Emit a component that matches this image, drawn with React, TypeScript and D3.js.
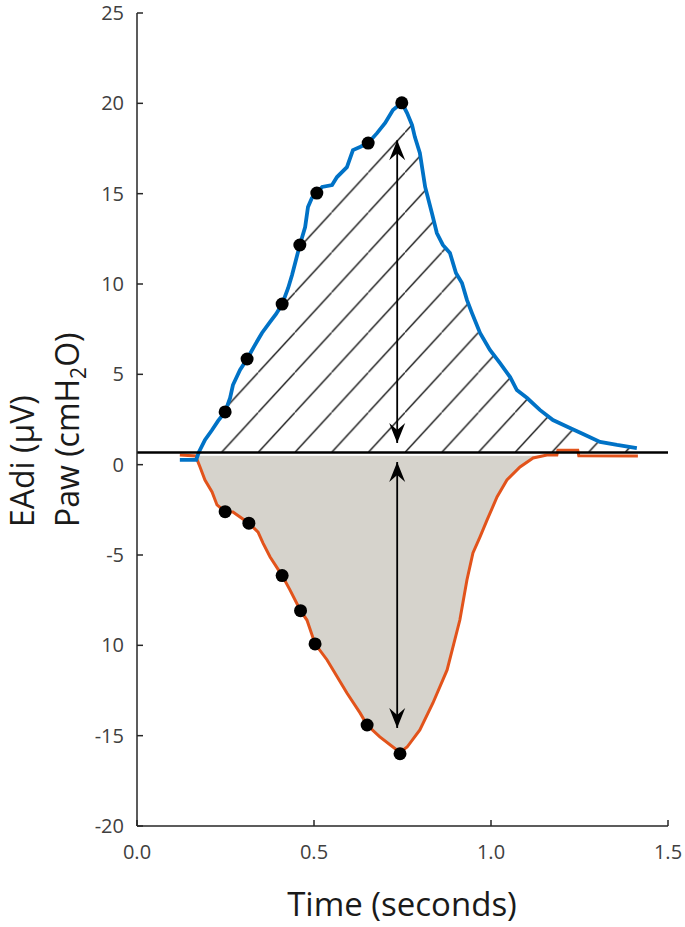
import React from 'react';
import * as d3 from 'd3';

// time (s) vs EAdi (µV) -- blue trace
const eadiTrace: [number, number][] = [
  [0.121, 0.26], [0.167, 0.26], [0.175, 0.7], [0.192, 1.37], [0.212, 1.92], [0.229, 2.42],
  [0.249, 2.92], [0.263, 3.69], [0.271, 4.41], [0.291, 5.24], [0.311, 5.85], [0.333, 6.62],
  [0.353, 7.29], [0.376, 7.9], [0.393, 8.34], [0.41, 8.89], [0.427, 9.78], [0.438, 10.5],
  [0.449, 11.33], [0.46, 12.16], [0.475, 13.15], [0.483, 14.26], [0.494, 14.76], [0.508, 15.03],
  [0.523, 15.37], [0.551, 15.48], [0.565, 15.92], [0.593, 16.47], [0.61, 17.41], [0.63, 17.58],
  [0.653, 17.8], [0.678, 18.35], [0.701, 18.91], [0.723, 19.63], [0.748, 20.03], [0.763, 19.46],
  [0.777, 18.8], [0.785, 18.13], [0.799, 17.25], [0.814, 15.37], [0.833, 13.93], [0.847, 12.82],
  [0.864, 12.16], [0.884, 11.72], [0.901, 10.61], [0.918, 10.06], [0.932, 9.12], [0.946, 8.4],
  [0.969, 7.29], [0.997, 6.35], [1.025, 5.63], [1.054, 4.85], [1.073, 4.13], [1.102, 3.69],
  [1.138, 3.03], [1.175, 2.47], [1.223, 2.03], [1.26, 1.7], [1.308, 1.26], [1.356, 1.09],
  [1.412, 0.92]
];

// time (s) vs Paw (cmH2O) -- orange trace
const pawTrace: [number, number][] = [
  [0.121, 0.53], [0.167, 0.48], [0.169, 0.31], [0.178, -0.13], [0.192, -0.85], [0.212, -1.51],
  [0.226, -2.23], [0.249, -2.6], [0.271, -2.62], [0.316, -3.24], [0.342, -3.73], [0.356, -4.34],
  [0.376, -5.11], [0.41, -6.14], [0.432, -6.93], [0.462, -8.08], [0.48, -8.6], [0.503, -9.92],
  [0.537, -10.81], [0.593, -12.64], [0.63, -13.74], [0.65, -14.41], [0.686, -15.07],
  [0.723, -15.63], [0.743, -15.93], [0.763, -15.63], [0.799, -14.68], [0.836, -13.19],
  [0.876, -11.36], [0.912, -8.6], [0.932, -6.38], [0.949, -4.89], [0.969, -4.0], [0.989, -3.06],
  [1.017, -1.79], [1.045, -0.85], [1.082, -0.13], [1.119, 0.37], [1.158, 0.53], [1.186, 0.53],
  [1.189, 0.8], [1.245, 0.8], [1.248, 0.5], [1.415, 0.48]
];

const eadiDots: [number, number][] = [
  [0.249, 2.92], [0.311, 5.85], [0.41, 8.89], [0.46, 12.16], [0.508, 15.03], [0.653, 17.8], [0.748, 20.03]
];
const pawDots: [number, number][] = [
  [0.249, -2.6], [0.316, -3.24], [0.41, -6.14], [0.462, -8.08], [0.503, -9.92], [0.65, -14.41], [0.743, -16.0]
];

const baseLevel = 0.675; // black reference line
const pawBase = 0.5;

// double arrows: [time, from, to]
const arrows: [number, number, number][] = [
  [0.735, 17.96, 1.2],
  [0.735, 0.15, -14.57]
];

const yTicks = [25, 20, 15, 10, 5, 0, -5, -10, -15, -20];
const yTickLabels = ['25', '20', '15', '10', '5', '0', '-5', '10', '-15', '-20'];
const xTicks = [0, 0.5, 1.0, 1.5];

export default function App() {
  const x = d3.scaleLinear().domain([0, 1.5]).range([137, 668]);
  const y = d3.scaleLinear().domain([-20, 25]).range([826, 13]);

  const line = d3.line<[number, number]>().x(d => x(d[0])).y(d => y(d[1]));
  const hatchArea = d3.area<[number, number]>()
    .x(d => x(d[0]))
    .y0(y(baseLevel))
    .y1(d => y(Math.max(d[1], baseLevel)));
  const grayArea = d3.area<[number, number]>()
    .x(d => x(d[0]))
    .y0(y(pawBase))
    .y1(d => y(Math.min(d[1], pawBase)));

  const hw = 36.7, hh = 40;
  const axisCol = '#262626';
  const tickFont = '"Open Sans", sans-serif';

  return (
    <svg width={685} height={927} style={{ position: 'absolute', left: 0, top: 0, background: '#fff' }}>
      <defs>
        <pattern id="hatch" patternUnits="userSpaceOnUse" x={405} y={y(baseLevel)} width={hw} height={hh}>
          <line x1={-1} y1={hh + 1.1} x2={hw + 1} y2={-1.1} stroke="#000" strokeWidth={1.2} />
        </pattern>
        <marker id="head" viewBox="-22 -10 24 20" markerWidth={24} markerHeight={20} refX={0} refY={0}
          markerUnits="userSpaceOnUse" orient="auto-start-reverse">
          <path d="M0,0 L-20,-8 L-13,0 L-20,8 Z" fill="#000" />
        </marker>
      </defs>

      {/* fills */}
      <path d={grayArea(pawTrace) || ''} fill="#D6D3CC" />
      <path d={hatchArea(eadiTrace) || ''} fill="url(#hatch)" />

      {/* traces */}
      <path d={line(pawTrace) || ''} fill="none" stroke="#E2531B" strokeWidth={3} />
      <path d={line(eadiTrace) || ''} fill="none" stroke="#0072C6" strokeWidth={3.8} />

      {/* reference line */}
      <line x1={x(0)} x2={x(1.5)} y1={y(baseLevel)} y2={y(baseLevel)} stroke="#000" strokeWidth={2.5} />

      {/* arrows */}
      {arrows.map((a, i) => (
        <line key={i} x1={x(a[0])} x2={x(a[0])} y1={y(a[1])} y2={y(a[2])} stroke="#000" strokeWidth={1.8}
          markerStart="url(#head)" markerEnd="url(#head)" />
      ))}

      {/* dots */}
      {eadiDots.concat(pawDots).map((d, i) => (
        <circle key={i} cx={x(d[0])} cy={y(d[1])} r={6.5} fill="#000" />
      ))}

      {/* y axis */}
      <line x1={x(0)} x2={x(0)} y1={y(25)} y2={y(-20)} stroke={axisCol} strokeWidth={1.5} />
      {yTicks.map((t, i) => (
        <g key={t}>
          <line x1={x(0)} x2={x(0) + 6} y1={y(t)} y2={y(t)} stroke={axisCol} strokeWidth={1.5} />
          <text x={124} y={y(t)} dy="0.35em" textAnchor="end" fontFamily={tickFont} fontSize={20} fill="#404040">
            {yTickLabels[i]}
          </text>
        </g>
      ))}

      {/* x axis */}
      <line x1={x(0)} x2={x(1.5)} y1={y(-20)} y2={y(-20)} stroke={axisCol} strokeWidth={1.5} />
      {xTicks.map(t => (
        <g key={t}>
          <line x1={x(t)} x2={x(t)} y1={y(-20)} y2={y(-20) - 6} stroke={axisCol} strokeWidth={1.5} />
          <text x={x(t)} y={852} dy="0.35em" textAnchor="middle" fontFamily={tickFont} fontSize={20} fill="#404040">
            {t.toFixed(1)}
          </text>
        </g>
      ))}

      {/* titles */}
      <text x={402} y={916} textAnchor="middle" fontFamily={tickFont} fontSize={33} fill="#1a1a1a">
        Time (seconds)
      </text>
      <text transform="translate(34,527) rotate(-90)" fontFamily={tickFont} fontSize={32} fill="#1a1a1a">
        EAdi (µV)
      </text>
      <text transform="translate(79,527) rotate(-90)" fontFamily={tickFont} fontSize={32} fill="#1a1a1a">
        Paw (cmH<tspan fontSize={21} dy={7}>2</tspan><tspan dy={-7}>O)</tspan>
      </text>
    </svg>
  );
}
